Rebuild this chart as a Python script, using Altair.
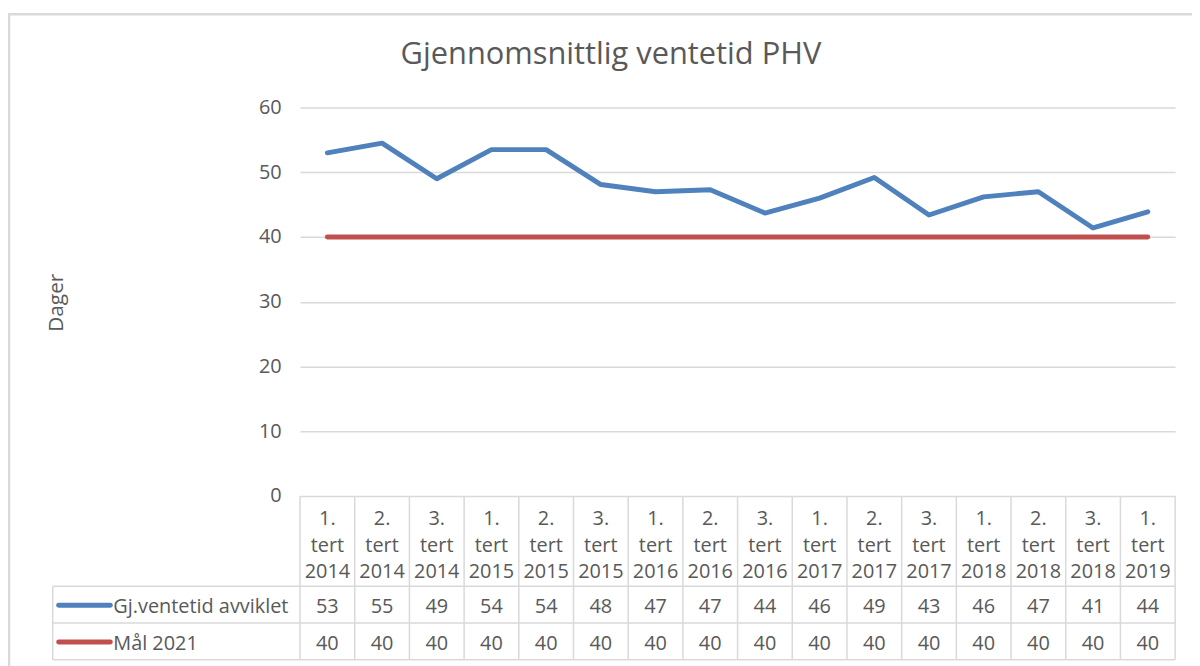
import altair as alt
import pandas as pd

# ---- data ----
tertial = ["1.", "2.", "3.", "1.", "2.", "3.", "1.", "2.", "3.", "1.", "2.", "3.", "1.", "2.", "3.", "1."]
years = ["2014", "2014", "2014", "2015", "2015", "2015", "2016", "2016", "2016",
         "2017", "2017", "2017", "2018", "2018", "2018", "2019"]
ventetid = [53.0, 54.5, 49.0, 53.5, 53.5, 48.1, 47.0, 47.3, 43.7, 46.0, 49.2, 43.4, 46.2, 47.0, 41.4, 43.9]
maal = [40, 40, 40, 40, 40, 40, 40, 40, 40, 40, 40, 40, 40, 40, 40, 40]
y_ticks = [0, 10, 20, 30, 40, 50, 60]
series_names = ["Gj.ventetid avviklet", "Mål 2021"]
series_colors = ["#4F81BD", "#C0504D"]
chart_title = "Gjennomsnittlig ventetid PHV"
y_title = "Dager"

FONT = "Open Sans"
TXT = "#595959"
GRID = "#d9d9d9"
FS = 20

cats = [f"{t} tert {y}" for t, y in zip(tertial, years)]
labels = [f"{t}\ntert\n{y}" for t, y in zip(tertial, years)]

df_cat = pd.DataFrame({"cat": cats, "label": labels})
df_long = pd.DataFrame({
    "cat": cats * 2,
    "series": [series_names[0]] * len(cats) + [series_names[1]] * len(cats),
    "value": ventetid + maal,
})

W, H = 881, 391
xscale = alt.Scale(type="band", domain=cats, paddingInner=0, paddingOuter=0)
yscale = alt.Scale(domain=[0, 60], nice=False, zero=True)
cscale = alt.Scale(domain=series_names, range=series_colors)

# plot lines with y axis and grid
lines = alt.Chart(df_long).mark_line(strokeWidth=5, strokeCap="round", strokeJoin="round").encode(
    x=alt.X("cat:N", scale=xscale, axis=None, bandPosition=0.5, sort=cats),
    y=alt.Y("value:Q", scale=yscale, axis=alt.Axis(
        values=y_ticks, grid=True, gridColor=GRID, gridWidth=1.5, domain=False, ticks=False,
        labelPadding=19, labelFontSize=FS, labelColor=TXT, labelFont=FONT,
        title=y_title, titleX=-245, titleY=196, titleAngle=270, titleAlign="center",
        titleBaseline="middle", titleFontSize=21, titleFontWeight="normal",
        titleColor=TXT, titleFont=FONT)),
    color=alt.Color("series:N", scale=cscale, legend=None),
    detail="series:N",
)

# outer frame
frame = alt.Chart(df_cat.head(1)).mark_rect(fill=None, stroke=GRID, strokeWidth=2.5).encode(
    x=alt.value(-293), x2=alt.value(920), y=alt.value(-94), y2=alt.value(600)
)

# title
title = alt.Chart(df_cat.head(1)).mark_text(
    text=chart_title, font=FONT, fontSize=31, color=TXT, align="center", baseline="middle"
).encode(x=alt.value(313), y=alt.value(-53))

# table grid: vertical lines at band edges
vgrid = alt.Chart(df_cat).mark_rule(color=GRID, strokeWidth=1.5).encode(
    x=alt.X("cat:N", scale=xscale, axis=None, bandPosition=0, sort=cats),
    y=alt.value(H), y2=alt.value(556),
)
vright = alt.Chart(df_cat.tail(1)).mark_rule(color=GRID, strokeWidth=1.5).encode(
    x=alt.X("cat:N", scale=xscale, axis=None, bandPosition=1, sort=cats),
    y=alt.value(H), y2=alt.value(556),
)
vleft = alt.Chart(df_cat.head(1)).mark_rule(color=GRID, strokeWidth=1.5).encode(
    x=alt.value(-249), y=alt.value(482), y2=alt.value(556),
)
hgrid = [
    alt.Chart(df_cat.head(1)).mark_rule(color=GRID, strokeWidth=1.5).encode(
        x=alt.value(-249), x2=alt.value(W), y=alt.value(yy))
    for yy in (482, 519, 556)
]

# header texts (first line's middle at y)
header = alt.Chart(df_cat).mark_text(
    font=FONT, fontSize=FS, color=TXT, align="center", baseline="middle", lineBreak="\n", lineHeight=27
).encode(
    x=alt.X("cat:N", scale=xscale, axis=None, bandPosition=0.5, sort=cats),
    y=alt.value(414),
    text="label:N",
)

row_layers = []
for name, ypos in zip(series_names, (503, 540)):
    row_layers.append(
        alt.Chart(df_long).transform_filter(alt.datum.series == name).mark_text(
            font=FONT, fontSize=FS, color=TXT, align="center", baseline="middle"
        ).encode(
            x=alt.X("cat:N", scale=xscale, axis=None, bandPosition=0.5, sort=cats),
            y=alt.value(ypos),
            text=alt.Text("value:Q", format=".0f"),
        )
    )
    leg = pd.DataFrame({"series": [name]})
    row_layers.append(
        alt.Chart(leg).mark_rule(strokeWidth=5, strokeCap="round").encode(
            x=alt.value(-243), x2=alt.value(-191), y=alt.value(ypos - 2),
            color=alt.Color("series:N", scale=cscale, legend=None),
        )
    )
    row_layers.append(
        alt.Chart(leg).mark_text(font=FONT, fontSize=FS, color=TXT, align="left", baseline="middle").encode(
            x=alt.value(-188), y=alt.value(ypos), text="series:N",
        )
    )

chart = alt.layer(
    frame, title, lines, vgrid, vright, vleft, *hgrid, header, *row_layers
).properties(
    width=W, height=H,
    autosize=alt.AutoSizeParams(type="none"),
    padding={"left": 294, "top": 98, "right": 17, "bottom": 169},
    background="white",
).configure_view(stroke=None)

chart.save("out.html", embed_options={"renderer": "svg", "actions": False})
